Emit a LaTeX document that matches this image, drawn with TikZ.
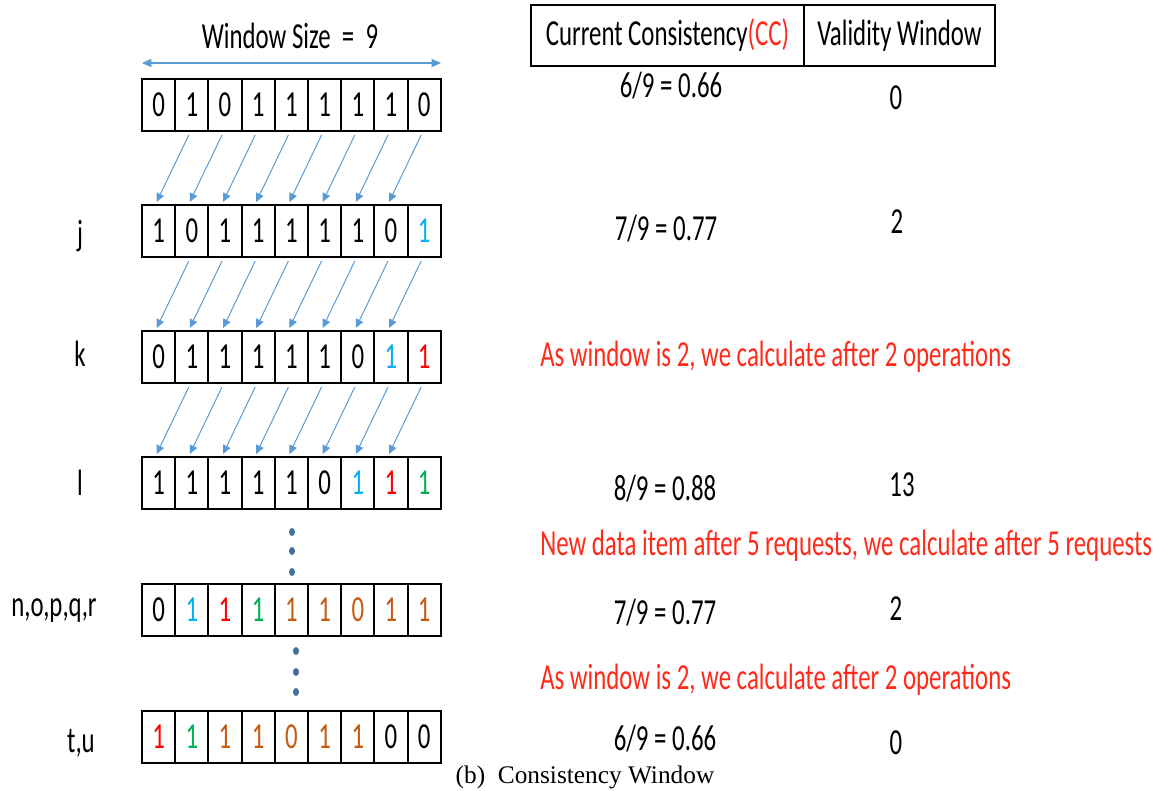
\documentclass[tikz,border=0pt]{standalone}
\usepackage{fontspec}
\setmainfont{Liberation Serif}
\newfontfamily\cf[FakeStretch=0.677]{Carlito}
\usetikzlibrary{arrows.meta}

\definecolor{arrblue}{HTML}{5B9BD5}
\definecolor{dotblue}{HTML}{41719C}
\definecolor{cyanv}{HTML}{00B0F0}
\definecolor{redv}{HTML}{FF0000}
\definecolor{greenv}{HTML}{00B050}
\definecolor{orangev}{HTML}{C55A11}
\definecolor{note}{HTML}{FF2A1A}

\tikzset{
  txt/.style={font=\cf\fontsize{27.5}{32}\selectfont, inner sep=0pt},
  cell/.style={draw, line width=1.5pt, minimum width=24.9pt, minimum height=39pt, inner sep=0pt, txt},
  hcell/.style={draw, line width=1pt, minimum height=45.75pt, inner sep=0pt, txt},
  val/.style={txt, anchor=base},
  notetxt/.style={txt, text=note, anchor=base west},
  arr/.style={draw=arrblue, line width=0.75pt, -{Triangle[length=6.5pt,width=6pt]}},
  warr/.style={draw=arrblue, line width=1pt, {Triangle[length=7pt,width=6pt]}-{Triangle[length=7pt,width=6pt]}},
  dotmark/.style={fill=dotblue}
}

% one row of nine cells: name, top edge, list of digit/colour
\newcommand\cellrow[3]{%
  \foreach \d/\c [count=\i] in {#3}
    \node[cell, text=\c] (#1-\i) at ({142+33.2*(\i-0.5)}, #2+26) {\d};
}

\begin{document}
\begin{tikzpicture}[x=0.75pt, y=-0.75pt]
\useasboundingbox (0,0) rectangle (1168,790);

% window size marker
\node[val] (wsize) at (290,48) {Window Size~~=~~9};
\coordinate (ws-l) at (142,63);
\coordinate (ws-r) at (441,63);
\draw[warr] (ws-l) -- (ws-r);

% sliding window rows
\cellrow{a}{79}{0/black,1/black,0/black,1/black,1/black,1/black,1/black,1/black,0/black}
\cellrow{j}{205}{1/black,0/black,1/black,1/black,1/black,1/black,1/black,0/black,1/cyanv}
\cellrow{k}{331}{0/black,1/black,1/black,1/black,1/black,1/black,0/black,1/cyanv,1/redv}
\cellrow{l}{457}{1/black,1/black,1/black,1/black,1/black,0/black,1/cyanv,1/redv,1/greenv}
\cellrow{n}{584}{0/black,1/cyanv,1/redv,1/greenv,1/orangev,1/orangev,0/orangev,1/orangev,1/orangev}
\cellrow{t}{711}{1/redv,1/greenv,1/orangev,1/orangev,0/orangev,1/orangev,1/orangev,0/black,0/black}

% shift arrows: each value moves one cell to the left in the next row
\foreach \u/\w in {a/j, j/k, k/l}
  \foreach \i in {1,...,8} {
    \pgfmathtruncatemacro\nx{\i+1}
    \draw[arr] ([shift={(-3,3)}]\u-\nx.south) -- ([shift={(-2,-2)}]\w-\i.north);
  }

% omitted steps
\foreach \yy in {532,551,572} \fill[dotmark] (292,\yy) ellipse [x radius=3, y radius=4];
\foreach \yy in {651,672,692} \fill[dotmark] (296,\yy) ellipse [x radius=3, y radius=4];

% row labels
\node[val] (lab-j) at (80,245) {j};
\node[val] (lab-k) at (80,366) {k};
\node[val] (lab-l) at (80,495) {l};
\node[val] (lab-n) at (54,616) {n,o,p,q,r};
\node[val] (lab-t) at (81,752) {t,u};

% table header
\node[hcell, minimum width=204.75pt] (hcc) at (667.5,35.5) {Current Consistency\textcolor{note}{(CC)}};
\node[hcell, minimum width=143.25pt] (hvw) at (899.5,35.5) {Validity Window};

% values
\node[val] (cc-a) at (671,97) {6/9 = 0.66};
\node[val] (vw-a) at (896,109) {0};
\node[val] (cc-j) at (666,240) {7/9 = 0.77};
\node[val] (vw-j) at (897,233) {2};
\node[val] (cc-l) at (665,500) {8/9 = 0.88};
\node[val] (vw-l) at (902,496) {13};
\node[val] (cc-n) at (665,624) {7/9 = 0.77};
\node[val] (vw-n) at (896,620) {2};
\node[val] (cc-t) at (665,750) {6/9 = 0.66};
\node[val] (vw-t) at (896,754) {0};

% notes
\node[notetxt] (note-k) at (540,366) {As window is 2, we calculate after 2 operations};
\node[notetxt] (note-l) at (540,555) {New data item after 5 requests, we calculate after 5 requests};
\node[notetxt] (note-n) at (540,689) {As window is 2, we calculate after 2 operations};

% caption
\node[font=\fontsize{19}{22}\selectfont, anchor=base, inner sep=0pt] (cap) at (585,783) {(b)~~Consistency Window};
\end{tikzpicture}
\end{document}
